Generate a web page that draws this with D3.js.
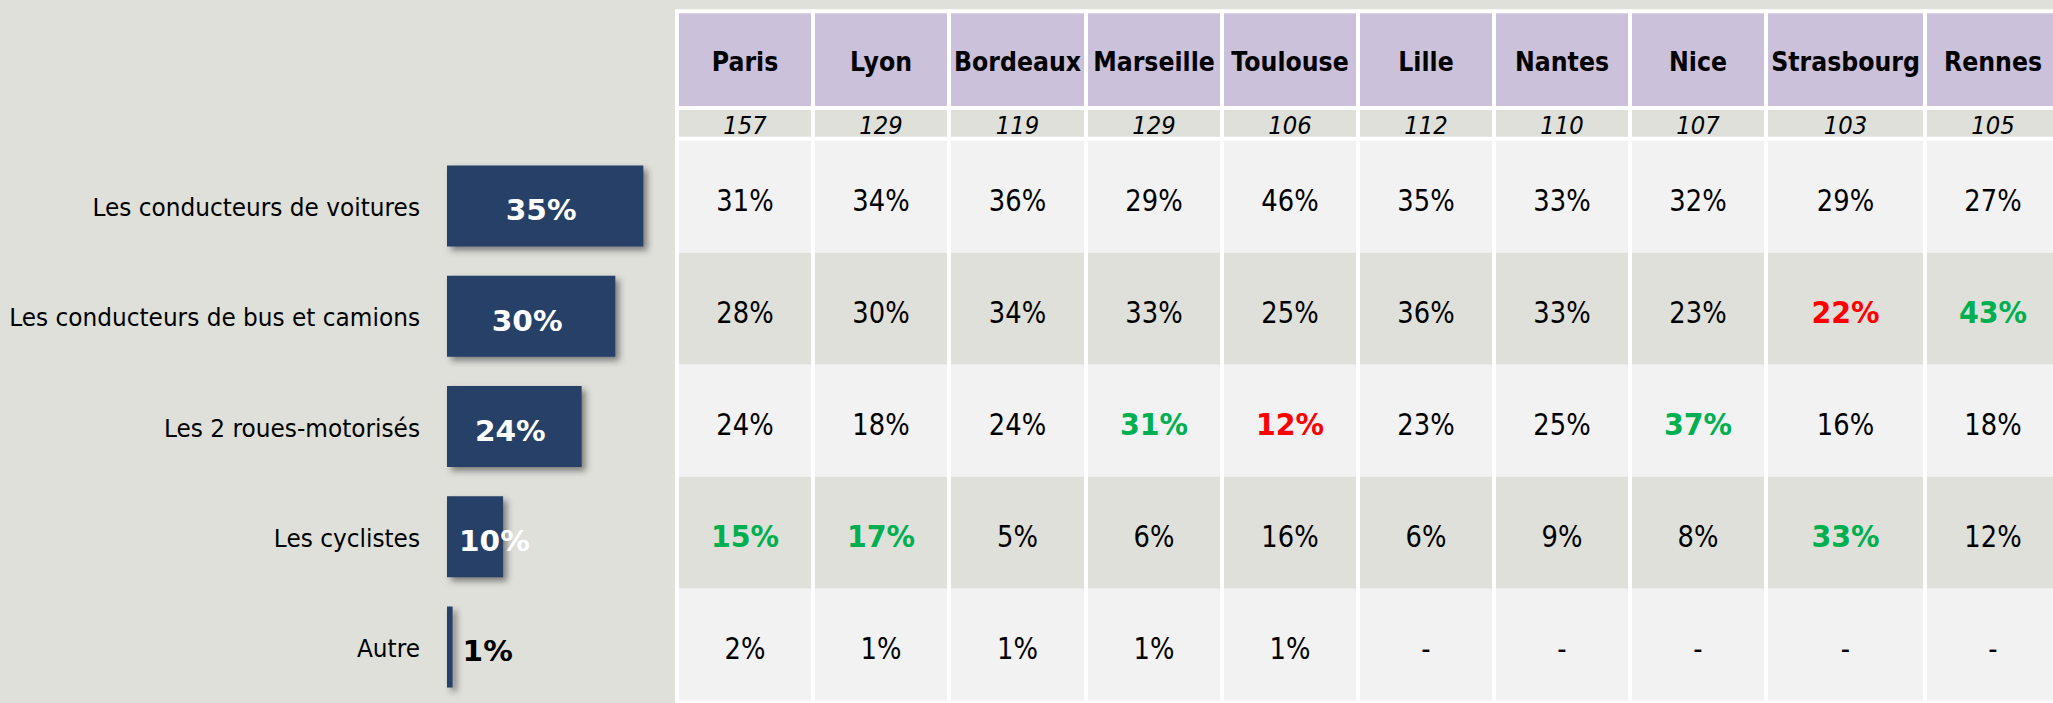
<!DOCTYPE html>
<html>
<head>
<meta charset="utf-8">
<title>Usagers jugés dangereux - par ville</title>
<script src="https://d3js.org/d3.v7.min.js"></script>
<style>
  body { margin: 0; background: #dfe0da; }
  svg { display: block; }
  text { font-family: "DejaVu Sans", Verdana, sans-serif; fill: #000; }
</style>
</head>
<body>
<svg width="2053" height="703"></svg>
<script>
// --- données ---
var categories = [
  "Les conducteurs de voitures",
  "Les conducteurs de bus et camions",
  "Les 2 roues-motorisés",
  "Les cyclistes",
  "Autre"
];
var overall = [35, 30, 24, 10, 1];

var cities = ["Paris", "Lyon", "Bordeaux", "Marseille", "Toulouse",
              "Lille", "Nantes", "Nice", "Strasbourg", "Rennes"];
var sampleSizes = [157, 129, 119, 129, 106, 112, 110, 107, 103, 105];

var voitures   = [31, 34, 36, 29, 46, 35, 33, 32, 29, 27];
var busCamions = [28, 30, 34, 33, 25, 36, 33, 23, 22, 43];
var deuxRoues  = [24, 18, 24, 31, 12, 23, 25, 37, 16, 18];
var cyclistes  = [15, 17, 5, 6, 16, 6, 9, 8, 33, 12];
var autre      = [2, 1, 1, 1, 1, null, null, null, null, null];
var cityValues = [voitures, busCamions, deuxRoues, cyclistes, autre];

// écarts signalés : "+" en vert, "-" en rouge
var highlights = [
  { cat: "Les conducteurs de bus et camions", city: "Strasbourg", sign: "-" },
  { cat: "Les conducteurs de bus et camions", city: "Rennes", sign: "+" },
  { cat: "Les 2 roues-motorisés", city: "Marseille", sign: "+" },
  { cat: "Les 2 roues-motorisés", city: "Toulouse", sign: "-" },
  { cat: "Les 2 roues-motorisés", city: "Nice", sign: "+" },
  { cat: "Les cyclistes", city: "Paris", sign: "+" },
  { cat: "Les cyclistes", city: "Lyon", sign: "+" },
  { cat: "Les cyclistes", city: "Strasbourg", sign: "+" }
];

// --- mise en page ---
var bg = "#dfe0da", light = "#f2f2f2", lilac = "#ccc1da", navy = "#253f67";
var green = "#00b050", red = "#ff0000";

var svg = d3.select("svg");

var filter = svg.append("defs").append("filter")
  .attr("id", "shadow")
  .attr("filterUnits", "userSpaceOnUse")
  .attr("x", 0).attr("y", 0).attr("width", 2053).attr("height", 703);
filter.append("feDropShadow")
  .attr("dx", 4).attr("dy", 4).attr("stdDeviation", 3)
  .attr("flood-color", "#333").attr("flood-opacity", 0.55);

// text condensed horizontally (the original face is narrower than DejaVu)
function squeeze(sel, fx, fy, sx) {
  sel.attr("transform", function(d, i) {
    return "translate(" + fx(d, i) + "," + fy(d, i) + ") scale(" + sx + ",1)";
  });
}

// ---- bar chart on the left ----
var barLeft = 447, barH = 81;
var x = d3.scaleLinear().domain([0, 100]).range([0, 561]);
var yBar = d3.scalePoint().domain(categories).range([206, 647]);

var barData = categories.map(function(c, i) { return { cat: c, value: overall[i] }; });

svg.append("g").selectAll("text")
  .data(barData).enter().append("text")
  .attr("text-anchor", "end")
  .attr("dy", "0.36em")
  .style("font-size", "25px")
  .text(function(d) { return d.cat; })
  .call(squeeze, function() { return 420; }, function(d) { return yBar(d.cat) + 1; }, 0.93);

var bars = svg.append("g").selectAll("g")
  .data(barData).enter().append("g");

bars.append("rect")
  .attr("x", barLeft)
  .attr("y", function(d) { return yBar(d.cat) - barH / 2; })
  .attr("width", function(d) { return x(d.value); })
  .attr("height", barH)
  .attr("fill", navy)
  .attr("filter", "url(#shadow)");

bars.append("text")
  .attr("dy", "0.36em")
  .style("font-size", "29px")
  .style("font-weight", "bold")
  .style("fill", function(d) { return d.value < 5 ? "#000" : "#fff"; })
  .attr("text-anchor", function(d) { return d.value < 5 ? "start" : "middle"; })
  .text(function(d) { return d.value + "%"; })
  .each(function(d) {
    var w = x(d.value), tw = this.getComputedTextLength() * 1.02, cx;
    if (d.value < 5) cx = barLeft + w + 10;
    else cx = Math.max(barLeft + w / 2 - 4, barLeft + 12 + tw / 2);
    d3.select(this).attr("transform",
      "translate(" + cx + "," + (yBar(d.cat) + 4) + ") scale(1.02,1)");
  });

// ---- table on the right ----
var tableLeft = 679, gap = 4;
var headTop = 13.3, headH = 92.7, nTop = 110, nH = 26.7;
var yRow = d3.scaleBand().domain(categories).range([140.7, 700.7]);

svg.append("rect")
  .attr("x", tableLeft - gap).attr("y", headTop - gap)
  .attr("width", 2053).attr("height", 703)
  .attr("fill", "#fff");

// column widths: 132 px, wider when the city name needs it
var probe = svg.append("text").style("font-size", "26px").style("font-weight", "bold");
var cols = [], cx0 = tableLeft;
cities.forEach(function(c, i) {
  probe.text(c);
  var w = Math.max(132, Math.round(probe.node().getComputedTextLength() * 0.91 + 6));
  cols.push({ city: c, n: sampleSizes[i], x: cx0, w: w });
  cx0 += w + gap;
});
probe.remove();

var colG = svg.append("g").selectAll("g")
  .data(cols).enter().append("g");

colG.append("rect")
  .attr("x", function(d) { return d.x; }).attr("y", headTop)
  .attr("width", function(d) { return d.w; }).attr("height", headH)
  .attr("fill", lilac);

colG.append("text")
  .attr("text-anchor", "middle").attr("dy", "0.36em")
  .style("font-size", "26px").style("font-weight", "bold")
  .text(function(d) { return d.city; })
  .call(squeeze, function(d) { return d.x + d.w / 2; }, function() { return headTop + headH / 2 + 1.5; }, 0.91);

colG.append("rect")
  .attr("x", function(d) { return d.x; }).attr("y", nTop)
  .attr("width", function(d) { return d.w; }).attr("height", nH)
  .attr("fill", bg);

colG.append("text")
  .attr("text-anchor", "middle").attr("dy", "0.36em")
  .style("font-size", "24px").style("font-style", "italic")
  .text(function(d) { return d.n; })
  .call(squeeze, function(d) { return d.x + d.w / 2; }, function() { return nTop + nH / 2 + 1.5; }, 0.95);

// cells
var cells = [];
categories.forEach(function(cat, r) {
  cols.forEach(function(col, c) {
    var h = highlights.find(function(e) { return e.cat === cat && e.city === col.city; });
    cells.push({ cat: cat, row: r, col: col, value: cityValues[r][c], mark: h ? h.sign : "" });
  });
});

var cellG = svg.append("g").selectAll("g")
  .data(cells).enter().append("g");

cellG.append("rect")
  .attr("x", function(d) { return d.col.x; })
  .attr("y", function(d) { return yRow(d.cat); })
  .attr("width", function(d) { return d.col.w; })
  .attr("height", yRow.bandwidth())
  .attr("fill", function(d) { return d.row % 2 === 0 ? light : bg; });

cellG.append("text")
  .attr("text-anchor", "middle").attr("dy", "0.36em")
  .style("font-size", "30px")
  .style("font-weight", function(d) { return d.mark ? "bold" : "normal"; })
  .style("fill", function(d) { return d.mark === "+" ? green : d.mark === "-" ? red : "#000"; })
  .text(function(d) { return d.value == null ? "-" : d.value + "%"; })
  .attr("transform", function(d) {
    var sx = d.mark ? 0.95 : 0.86;
    return "translate(" + (d.col.x + d.col.w / 2) + "," + (yRow(d.cat) + yRow.bandwidth() / 2 + 3) +
      ") scale(" + sx + ",1)";
  });
</script>
</body>
</html>
